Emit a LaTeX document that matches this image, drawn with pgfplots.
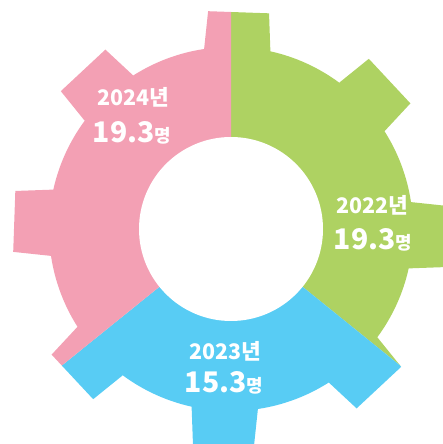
\documentclass[border=0pt]{standalone}
\usepackage{fontspec}
\setmainfont{Noto Sans CJK KR}
\usepackage{pgfplots}
\usepackage{pgfplotstable}
\pgfplotsset{compat=1.18}

\definecolor{cGreen}{HTML}{AED262}
\definecolor{cBlue}{HTML}{58CCF4}
\definecolor{cPink}{HTML}{F3A0B4}

% one value per year, sectors run clockwise from the top
\pgfplotstableread{
year value
2022 19.3
2023 15.3
2024 19.3
}\gdata

\pgfplotstablegetelem{0}{value}\of\gdata \let\vA\pgfplotsretval
\pgfplotstablegetelem{1}{value}\of\gdata \let\vB\pgfplotsretval
\pgfplotstablegetelem{2}{value}\of\gdata \let\vC\pgfplotsretval
\pgfmathsetmacro\tot{\vA+\vB+\vC}
\pgfmathsetmacro\aA{90}
\pgfmathsetmacro\aB{\aA-360*\vA/\tot}
\pgfmathsetmacro\aC{\aB-360*\vB/\tot}
\pgfmathsetmacro\aD{\aC-360*\vC/\tot}

% gear body clipped to one sector
\newcommand\gearsector[3]{%
  \begin{scope}[shift={(axis cs:231,215)}]
    \clip (0:0bp) -- (#2:420bp) arc[start angle=#2, end angle=#3, radius=420bp] -- cycle;
    \fill[#1] (-12.5:182bp)
      \foreach \j in {0,...,7}{
        -- ({-2+45*\j-10.5}:182bp) -- ({-2+45*\j-8}:219bp)
        -- ({-2+45*\j+8}:219bp) -- ({-2+45*\j+10.5}:182bp)
        arc[start angle={-2+45*\j+10.5}, end angle={-2+45*(\j+1)-10.5}, radius=182bp]
      } -- cycle;
  \end{scope}}

\tikzset{yr/.style={white, font=\bfseries\fontsize{21.5}{21.5}\selectfont},
         nm/.style={white, font=\bfseries}}
\newcommand\num[1]{{\fontsize{28.5}{28.5}\selectfont #1}{\fontsize{18}{18}\selectfont 명}}

\begin{document}
\begin{tikzpicture}
\begin{axis}[
    hide axis,
    scale only axis,
    width=443bp, height=444bp,
    xmin=0, xmax=443, ymin=0, ymax=444,
]
\gearsector{cGreen}{\aA}{\aB}
\gearsector{cBlue}{\aB}{\aC}
\gearsector{cPink}{\aC}{\aD}
\fill[white] (axis cs:231,215) circle[radius=92bp];

\node[yr] at (axis cs:372,239) {2022년};
\node[nm] at (axis cs:373,204) {\num{19.3}};
\node[yr] at (axis cs:225,93) {2023년};
\node[nm] at (axis cs:224,61) {\num{15.3}};
\node[yr] at (axis cs:133,347) {2024년};
\node[nm] at (axis cs:132,311) {\num{19.3}};
\end{axis}
\end{tikzpicture}
\end{document}
